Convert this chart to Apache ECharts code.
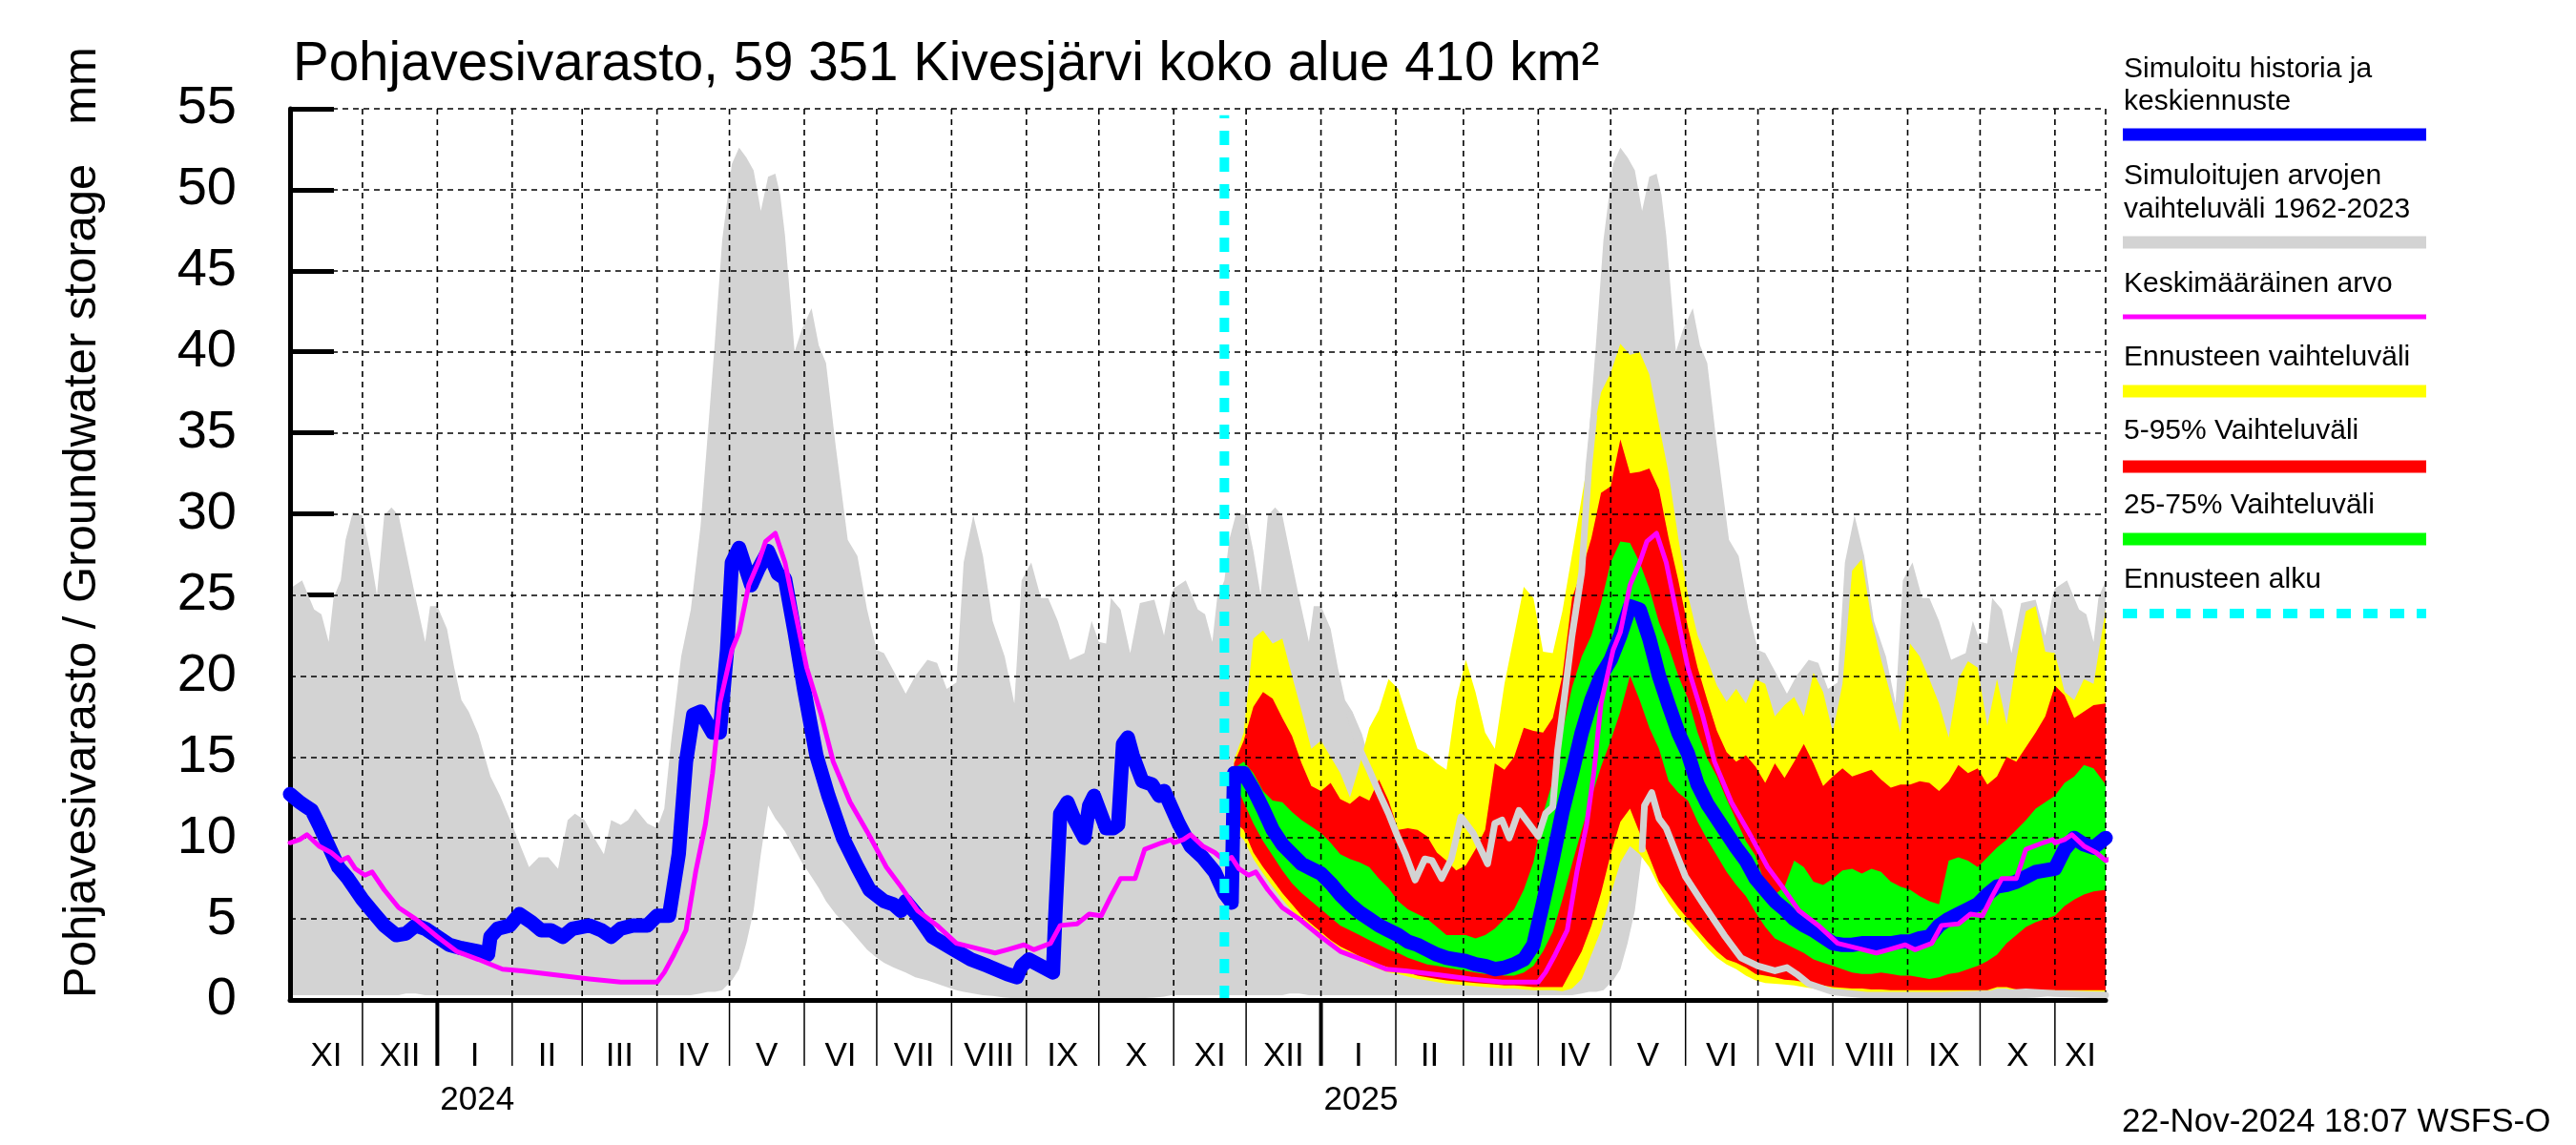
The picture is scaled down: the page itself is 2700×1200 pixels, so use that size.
<!DOCTYPE html>
<html><head><meta charset="utf-8">
<script src="https://cdn.jsdelivr.net/npm/echarts@6/dist/echarts.min.js"></script>
<style>html,body{margin:0;padding:0;background:#fff}#chart{width:2700px;height:1200px}</style>
</head><body><div id="chart"></div>
<script>
const FONT = '"Liberation Sans", Arial, Helvetica, sans-serif';
const X_MIN = '2023-11-01';
const X_MAX = '2025-11-22';
const FORECAST_START = '2024-11-22';

// Climatology 1962-2023 (range) by day of season (Nov..Oct), repeats every year
const climDays = ['11-01','11-06','11-09','11-11','11-14','11-17','11-19','11-22','11-24','11-27',
 '12-01','12-04','12-07','12-10','12-13','12-16','12-19','12-23','12-27','12-29',
 '01-01','01-05','01-08','01-11','01-14','01-18','01-23','01-27',
 '02-01','02-05','02-08','02-12','02-16','02-20','02-24','02-27',
 '03-02','03-06','03-10','03-13','03-17','03-20','03-23','03-28',
 '04-01','04-04','04-07','04-11','04-15','04-19','04-22','04-25','04-28',
 '05-02','05-05','05-08','05-11','05-14','05-17','05-20','05-22','05-24','05-28','05-31',
 '06-04','06-07','06-10','06-14','06-19','06-23','06-27',
 '07-01','07-04','07-08','07-13','07-17','07-22','07-26','07-30',
 '08-03','08-06','08-10','08-14','08-18','08-23','08-27','08-30',
 '09-03','09-07','09-10','09-14','09-19','09-25','09-28',
 '10-01','10-04','10-06','10-10','10-14','10-18','10-24','10-28','10-31'];
const climHi = [25.4,25.9,24.8,24.1,23.8,22.1,24.8,25.9,28.4,30.1,
 29.9,27.7,25.0,29.9,30.4,29.9,27.7,24.8,22.1,24.3,
 24.3,22.9,20.5,18.5,17.8,16.4,13.8,12.6,
 10.8,9.3,8.2,8.8,8.8,8.1,11.1,11.5,
 11.1,10.0,9.0,11.1,10.8,11.1,11.8,10.9,
 10.6,11.8,16.2,21.2,24.1,29.2,34.9,40.7,46.9,
 51.6,52.6,52.0,51.2,48.7,50.8,51.0,49.7,47.2,40.0,41.4,
 42.7,40.4,39.3,34.2,28.4,27.4,24.1,
 21.6,21.4,20.3,18.9,20.0,21.0,20.8,19.2,
 19.6,27.0,29.9,27.4,23.4,21.2,18.3,25.9,
 27.0,24.8,24.8,23.4,21.0,21.4,23.4,
 22.1,22.0,24.8,24.1,21.4,24.5,24.7,22.5,25.0];
const climLo = [0.3,0.3,0.3,0.3,0.3,0.3,0.3,0.3,0.3,0.3,
 0.3,0.3,0.3,0.3,0.3,0.3,0.4,0.4,0.3,0.3,
 0.3,0.3,0.3,0.3,0.3,0.3,0.3,0.3,
 0.3,0.3,0.3,0.3,0.3,0.3,0.3,0.3,
 0.3,0.3,0.3,0.3,0.3,0.3,0.3,0.3,
 0.3,0.3,0.3,0.3,0.3,0.4,0.5,0.5,0.6,
 1.2,1.9,3.5,5.5,9.0,12.0,11.2,10.8,10.4,9.3,8.5,
 7.6,6.9,6.1,5.3,4.5,3.8,3.1,
 2.6,2.3,2.0,1.7,1.4,1.2,1.0,0.8,
 0.6,0.5,0.4,0.3,0.25,0.15,0.1,0.1,
 0.1,0.1,0.1,0.1,0.1,0.1,0.1,
 0.1,0.1,0.1,0.1,0.1,0.1,0.15,0.2,0.3];

// Mean value (Keskimääräinen arvo) by day of season
const meanDays = ['11-01','11-05','11-08','11-13','11-18','11-22','11-25','11-28',
 '12-02','12-05','12-10','12-16','12-23',
 '01-01','01-09','01-18','01-28',
 '02-05','02-19','03-04','03-17',
 '04-01','04-04','04-08','04-13','04-17','04-21','04-24','04-27',
 '05-02','05-05','05-09','05-13','05-16','05-20','05-24','05-28',
 '06-02','06-08','06-13','06-20','06-27',
 '07-05','07-11','07-18','07-26',
 '08-03','08-11','08-19','08-24','08-31',
 '09-04','09-11','09-15','09-22','09-27',
 '10-02','10-06','10-10','10-16','10-20','10-27','10-31'];
const meanVals = [9.7,9.9,10.2,9.5,9.1,8.6,8.8,8.1,
 7.7,7.9,6.8,5.7,5.0,
 3.9,3.0,2.5,1.9,
 1.8,1.55,1.3,1.1,
 1.1,1.7,2.8,4.3,7.9,10.8,14.0,18.3,
 21.6,22.7,25.6,27.0,28.3,28.8,27.0,24.1,
 20.5,17.6,14.7,12.2,10.4,
 8.2,7.0,5.5,4.6,
 3.5,3.2,2.9,3.1,3.4,
 3.1,3.5,4.6,4.7,5.3,
 5.2,6.4,7.5,7.5,9.3,9.7,9.9];

// Simulated history
const histDates = ['2023-11-01','2023-11-05','2023-11-07','2023-11-10','2023-11-13','2023-11-17','2023-11-21','2023-11-25',
 '2023-12-01','2023-12-06','2023-12-10','2023-12-15','2023-12-19','2023-12-23','2023-12-27',
 '2024-01-01','2024-01-06','2024-01-11','2024-01-18','2024-01-22','2024-01-23','2024-01-26','2024-01-31',
 '2024-02-04','2024-02-09','2024-02-13','2024-02-17','2024-02-22','2024-02-26',
 '2024-03-04','2024-03-09','2024-03-13','2024-03-17','2024-03-22','2024-03-28',
 '2024-04-01','2024-04-06','2024-04-10','2024-04-13','2024-04-16','2024-04-19','2024-04-24','2024-04-27','2024-04-30',
 '2024-05-02','2024-05-05','2024-05-10','2024-05-13','2024-05-17','2024-05-21','2024-05-24','2024-05-28',
 '2024-06-01','2024-06-06','2024-06-11','2024-06-17','2024-06-23','2024-06-28',
 '2024-07-04','2024-07-08','2024-07-11','2024-07-13','2024-07-18','2024-07-24',
 '2024-08-01','2024-08-09','2024-08-16','2024-08-24','2024-08-28','2024-08-30',
 '2024-09-02','2024-09-07','2024-09-12','2024-09-13','2024-09-15','2024-09-18','2024-09-21','2024-09-25','2024-09-27','2024-09-29',
 '2024-10-04','2024-10-07','2024-10-09','2024-10-11','2024-10-13','2024-10-15','2024-10-19','2024-10-23','2024-10-26','2024-10-28',
 '2024-11-03','2024-11-08','2024-11-13','2024-11-18','2024-11-22','2024-11-25'];
const histVals = [12.7,12.2,12.0,11.7,10.8,9.5,8.2,7.5,
 6.2,5.3,4.6,4.0,4.1,4.6,4.4,
 3.9,3.4,3.2,3.0,2.8,3.9,4.4,4.6,
 5.3,4.8,4.3,4.3,3.9,4.4,
 4.6,4.3,3.9,4.4,4.6,4.6,
 5.2,5.2,9.0,14.7,17.6,17.8,16.5,16.5,21.6,
 27.0,27.9,25.6,26.6,27.7,26.3,26.0,22.7,
 19.1,15.1,12.6,10.0,8.2,6.8,
 6.1,5.9,5.5,6.1,5.2,3.9,
 3.2,2.5,2.1,1.6,1.4,2.1,
 2.5,2.1,1.7,5.3,11.5,12.2,11.1,10.0,12.0,12.6,
 10.6,10.6,10.8,15.8,16.2,15.1,13.5,13.3,12.6,12.9,
 10.9,9.5,8.8,7.9,6.6,6.0];

// Forecast
const fcDates = ['2024-11-26','2024-11-30','2024-12-04','2024-12-08','2024-12-12','2024-12-16','2024-12-20','2024-12-24','2024-12-28',
 '2025-01-01','2025-01-05','2025-01-09','2025-01-13','2025-01-17','2025-01-21','2025-01-25','2025-01-29',
 '2025-02-02','2025-02-06','2025-02-10','2025-02-14','2025-02-18','2025-02-22','2025-02-26',
 '2025-03-02','2025-03-06','2025-03-10','2025-03-14','2025-03-18','2025-03-22','2025-03-26','2025-03-30',
 '2025-04-03','2025-04-07','2025-04-11','2025-04-15','2025-04-19','2025-04-23','2025-04-27',
 '2025-05-01','2025-05-05','2025-05-09','2025-05-13','2025-05-17','2025-05-21','2025-05-25','2025-05-29',
 '2025-06-02','2025-06-06','2025-06-10','2025-06-14','2025-06-18','2025-06-22','2025-06-26','2025-06-30',
 '2025-07-04','2025-07-08','2025-07-12','2025-07-16','2025-07-20','2025-07-24','2025-07-28',
 '2025-08-01','2025-08-05','2025-08-09','2025-08-13','2025-08-17','2025-08-21','2025-08-25','2025-08-29',
 '2025-09-02','2025-09-06','2025-09-10','2025-09-14','2025-09-18','2025-09-22','2025-09-26','2025-09-30',
 '2025-10-04','2025-10-08','2025-10-12','2025-10-16','2025-10-20','2025-10-24','2025-10-28',
 '2025-11-01','2025-11-05','2025-11-09','2025-11-13','2025-11-17','2025-11-22'];
const fcMedian = [14.0,14.0,13.0,11.8,10.5,9.6,9.0,8.4,8.1,
 7.8,7.2,6.5,5.9,5.4,5.0,4.6,4.3,
 4.0,3.6,3.4,3.1,2.8,2.6,2.5,
 2.4,2.2,2.1,1.9,2.0,2.2,2.5,3.4,
 6.0,8.7,11.6,14.0,16.5,18.5,20.0,
 21.0,22.5,24.3,24.1,22.3,20.0,18.2,16.5,
 15.2,13.3,12.1,11.2,10.3,9.4,8.6,7.5,
 6.8,6.1,5.6,5.0,4.6,4.3,3.9,
 3.5,3.4,3.4,3.5,3.5,3.5,3.5,3.6,
 3.6,3.8,3.9,4.6,5.0,5.3,5.6,5.9,
 6.5,7.0,7.1,7.3,7.6,7.9,8.0,
 8.1,9.3,10.0,9.6,9.4,10.0];
const fcMax = [14.8,16.5,22.3,22.8,22.0,22.3,20.0,17.8,15.5,
 16.0,15.0,14.0,12.5,14.5,16.8,17.9,19.8,
 19.2,17.3,15.5,15.2,14.6,14.2,18.5,
 21.0,19.0,16.5,15.5,19.5,22.5,25.5,24.8,
 21.5,21.4,24.0,27.5,31.0,34.5,37.5,
 38.7,40.5,39.8,40.0,38.6,35.5,32.5,28.5,
 25.0,22.5,21.0,19.4,18.4,19.2,18.3,19.8,
 19.5,17.5,18.2,18.7,17.5,20.2,19.0,
 16.5,19.5,26.5,27.2,23.5,21.0,18.8,16.5,
 22.0,21.2,19.8,18.3,16.2,19.8,20.9,20.5,
 16.9,19.8,17.0,21.0,24.0,24.3,21.5,
 21.4,19.0,18.5,19.8,19.5,24.1];
const fcP95 = [14.6,16.0,18.1,19.0,18.6,17.4,16.3,14.6,13.2,
 12.9,13.4,12.4,12.1,12.6,12.3,13.6,12.3,
 10.5,10.6,10.5,10.1,9.1,8.6,8.0,
 8.3,9.3,10.5,14.6,14.2,15.0,16.8,16.6,
 16.5,17.4,20.0,24.8,26.5,28.5,31.3,
 31.7,34.6,32.5,32.6,32.8,31.5,28.5,25.9,
 23.0,20.5,18.5,16.6,15.3,14.7,15.1,14.4,
 13.4,14.6,13.7,14.7,15.8,14.6,13.2,
 13.8,14.3,13.8,14.0,14.2,13.6,13.1,13.3,
 13.3,13.5,13.4,12.9,13.5,14.5,14.0,14.3,
 13.3,13.8,15.0,14.7,15.6,16.5,17.5,
 19.4,18.8,17.4,17.8,18.2,18.3];
const fcP75 = [14.3,14.7,14.0,12.9,12.3,12.2,11.6,11.1,10.7,
 10.3,9.7,9.0,8.7,8.5,8.2,7.5,6.9,
 6.1,5.6,5.3,5.0,4.5,4.0,4.0,
 4.0,3.8,4.0,4.4,5.0,5.6,6.8,8.5,
 11.5,13.5,16.5,19.3,21.2,22.5,24.5,
 27.0,28.3,28.2,27.0,25.4,23.3,21.8,20.0,
 18.6,16.5,14.9,13.8,12.4,11.1,9.8,8.9,
 7.1,6.5,7.0,8.6,8.2,7.3,7.1,
 7.5,8.0,8.1,7.8,8.1,7.9,7.3,7.0,
 6.8,6.4,6.1,5.9,8.6,8.8,8.6,8.2,
 8.8,9.4,9.9,10.5,11.1,11.8,12.2,
 12.6,13.4,13.8,14.5,14.3,13.3];
const fcP25 = [13.5,12.2,10.9,9.8,8.9,8.0,7.2,6.6,6.1,
 5.6,5.1,4.6,4.3,4.0,3.7,3.4,3.1,
 2.9,2.6,2.4,2.2,2.1,2.0,1.9,
 1.8,1.7,1.6,1.6,1.5,1.5,1.7,2.1,
 3.0,4.2,6.2,8.4,10.5,12.5,14.4,
 16.0,17.8,20.0,18.5,16.8,15.5,13.5,12.8,
 12.3,11.0,9.9,8.9,7.9,7.1,6.4,5.4,
 4.5,3.8,3.5,3.2,2.9,2.5,2.3,
 2.1,1.9,1.7,1.6,1.6,1.7,1.6,1.5,
 1.5,1.4,1.3,1.4,1.6,1.7,1.9,2.1,
 2.4,2.8,3.5,4.0,4.5,4.8,5.0,
 5.2,5.8,6.2,6.5,6.7,6.8];
const fcP5 = [11.0,10.5,9.1,8.2,7.4,6.6,5.9,5.2,4.7,
 4.2,3.7,3.3,3.0,2.7,2.4,2.2,2.0,
 1.9,1.7,1.5,1.4,1.3,1.2,1.15,
 1.1,1.05,1.0,0.95,0.9,0.9,0.85,0.8,
 0.8,0.8,0.8,1.9,3.0,4.6,6.6,
 9.0,11.0,11.8,10.3,8.8,7.3,6.5,5.7,
 5.0,4.3,3.6,3.0,2.5,2.3,2.0,1.6,
 1.5,1.4,1.25,1.2,1.1,1.0,0.9,
 0.8,0.75,0.7,0.7,0.65,0.65,0.6,0.6,
 0.6,0.6,0.6,0.6,0.6,0.6,0.6,0.6,
 0.6,0.8,0.8,0.65,0.6,0.6,0.6,
 0.6,0.6,0.6,0.6,0.6,0.6];
const fcMin = [10.5,9.9,8.7,7.8,7.0,6.2,5.5,4.8,4.3,
 3.8,3.4,3.0,2.7,2.4,2.1,1.9,1.7,
 1.6,1.45,1.3,1.2,1.1,1.0,0.95,
 0.9,0.85,0.8,0.75,0.7,0.7,0.65,0.6,
 0.6,0.6,0.55,0.7,1.3,2.8,4.3,
 6.5,8.5,9.5,9.0,8.2,7.0,6.0,5.2,
 4.6,3.9,3.2,2.6,2.2,1.9,1.5,1.2,
 1.05,1.0,0.95,0.9,0.8,0.7,0.6,
 0.5,0.45,0.4,0.4,0.4,0.35,0.35,0.35,
 0.35,0.35,0.35,0.35,0.35,0.4,0.4,0.45,
 0.5,0.7,0.7,0.55,0.5,0.5,0.5,
 0.5,0.5,0.5,0.5,0.5,0.5];

// Light grey scenario line (no legend entry)
const scenDates = ['2025-01-13','2025-01-17','2025-01-21','2025-01-25','2025-01-29','2025-02-02','2025-02-05','2025-02-09','2025-02-13','2025-02-16',
 '2025-02-20','2025-02-24','2025-02-28','2025-03-05','2025-03-11','2025-03-14','2025-03-17','2025-03-20','2025-03-24','2025-03-28',
 '2025-04-01','2025-04-04','2025-04-07','2025-04-09','2025-04-12','2025-04-15','2025-04-19','2025-04-22','2025-04-24',
 '2025-05-01',
 '2025-05-14','2025-05-15','2025-05-18','2025-05-21','2025-05-24','2025-05-28','2025-06-01','2025-06-08','2025-06-17','2025-06-24',
 '2025-07-01','2025-07-08','2025-07-13','2025-07-17','2025-07-22','2025-08-01','2025-08-15','2025-09-15','2025-10-10','2025-10-20',
 '2025-11-01','2025-11-22'];
const scenVals = [17.6,15.5,14.2,12.8,11.5,10.0,9.0,7.4,8.7,8.6,
 7.5,8.7,11.3,10.3,8.4,10.9,11.1,10.0,11.7,10.9,
 10.1,11.5,11.9,15.4,18.9,22.5,26.4,33.0,36.0,
 null,
 9.3,12.0,12.8,11.2,10.6,9.1,7.6,6.0,4.0,2.6,
 2.1,1.8,2.0,1.6,1.0,0.5,0.3,0.3,0.4,0.5,
 0.4,0.3];

// Axis labels
const yTicks = {min: 0, max: 55, interval: 5};
const monthStarts = ['2023-11-01','2023-12-01','2024-01-01','2024-02-01','2024-03-01','2024-04-01','2024-05-01','2024-06-01',
 '2024-07-01','2024-08-01','2024-09-01','2024-10-01','2024-11-01','2024-12-01','2025-01-01','2025-02-01','2025-03-01',
 '2025-04-01','2025-05-01','2025-06-01','2025-07-01','2025-08-01','2025-09-01','2025-10-01','2025-11-01'];
const monthLabels = ['XI','XII','I','II','III','IV','V','VI','VII','VIII','IX','X','XI','XII','I','II','III','IV','V','VI','VII','VIII','IX','X','XI'];
const yearTicks = ['2024-01-01','2025-01-01'];
const yearLabels = ['2024','2025'];

const legendItems = [
 {lines:['Simuloitu historia ja','keskiennuste'], color:'#0000ff', kind:'bar'},
 {lines:['Simuloitujen arvojen','vaihteluväli 1962-2023'], color:'#d3d3d3', kind:'bar'},
 {lines:['Keskimääräinen arvo'], color:'#ff00ff', kind:'thin'},
 {lines:['Ennusteen vaihteluväli'], color:'#ffff00', kind:'bar'},
 {lines:['5-95% Vaihteluväli'], color:'#ff0000', kind:'bar'},
 {lines:['25-75% Vaihteluväli'], color:'#00ff00', kind:'bar'},
 {lines:['Ennusteen alku'], color:'#00ffff', kind:'dash'}
];

// ---------- build ----------
function ts(s){ const p = s.split('-').map(Number); return new Date(p[0], p[1]-1, p[2]).getTime(); }
const X_MIN_TS = ts(X_MIN), X_MAX_TS = ts(X_MAX);
const DAY = 86400000;

function expandClim(days, vals){
  const out = [];
  [2023, 2024, 2025].forEach(y0 => {
    days.forEach((md, i) => {
      const p = md.split('-').map(Number);
      const y = p[0] >= 11 ? y0 : y0 + 1;
      const t = new Date(y, p[0]-1, p[1]).getTime();
      if (t <= X_MAX_TS + 40*DAY) out.push([t, vals[i]]);
    });
  });
  return out;
}

function bandSeries(id, times, lo, hi, color){
  const base = {type:'line', stack:id, symbol:'none', showSymbol:false, silent:true, z:1,
    lineStyle:{width:0, opacity:0}, animation:false};
  return [
    Object.assign({}, base, {name:id+'_lo', data: times.map((t,i)=>[t, lo[i]])}),
    Object.assign({}, base, {name:id+'_hi', data: times.map((t,i)=>[t, hi[i]-lo[i]]),
      areaStyle:{color:color, opacity:1}})
  ];
}

const greyLoPts = expandClim(climDays, climLo);
const greyHiPts = expandClim(climDays, climHi);
const greyTimes = greyLoPts.map(p=>p[0]);
const fcTimes = fcDates.map(ts);

const series = [];
series.push(...bandSeries('grey', greyTimes, greyLoPts.map(p=>p[1]), greyHiPts.map(p=>p[1]), '#d3d3d3'));
series.push(...bandSeries('yellow', fcTimes, fcMin, fcMax, '#ffff00'));
series.push(...bandSeries('red', fcTimes, fcP5, fcP95, '#ff0000'));
series.push(...bandSeries('green', fcTimes, fcP25, fcP75, '#00ff00'));

// vertical month grid lines
series.push({
  type:'custom', z:2, silent:true, animation:false, clip:false,
  encode:{x:0, y:1},
  data: monthStarts.slice(1).map(s=>[ts(s),0]).concat([[X_MAX_TS,0]]),
  renderItem:(params, api)=>{
    const t = api.value(0);
    const a = api.coord([t, yTicks.max]);
    const b = api.coord([t, 0]);
    return {type:'line', shape:{x1:a[0], y1:a[1], x2:b[0], y2:b[1]},
      style:{stroke:'#000', lineWidth:1.6, lineDash:[6,5]}};
  }
});

// light grey scenario line
series.push({type:'line', z:3, symbol:'none', showSymbol:false, silent:true, animation:false, connectNulls:false,
  data: scenDates.map((d,i)=>[ts(d), scenVals[i]]),
  lineStyle:{color:'#d3d3d3', width:7, cap:'round', join:'round'}});

// blue: history + median forecast
series.push({type:'line', z:3, symbol:'none', showSymbol:false, silent:true, animation:false,
  data: histDates.map((d,i)=>[ts(d), histVals[i]]).concat(fcDates.map((d,i)=>[ts(d), fcMedian[i]])),
  lineStyle:{color:'#0000ff', width:15, cap:'round', join:'round'}});

// magenta mean
series.push({type:'line', z:3, symbol:'none', showSymbol:false, silent:true, animation:false,
  data: expandClim(meanDays, meanVals),
  lineStyle:{color:'#ff00ff', width:5, cap:'round', join:'round'}});

// forecast start
series.push({type:'line', z:4, symbol:'none', showSymbol:false, silent:true, animation:false,
  data: [[ts(FORECAST_START), 0], [ts(FORECAST_START), 54.6]],
  lineStyle:{color:'#00ffff', width:10, type:[15,13]}});

// month ticks + labels under the axis
series.push({
  type:'custom', z:5, silent:true, animation:false, clip:false,
  encode:{x:0, y:1},
  data: monthStarts.map((s,i)=>[ts(s), 0, i < monthStarts.length-1 ? ts(monthStarts[i+1]) : X_MAX_TS, i]),
  renderItem:(params, api)=>{
    const t0 = api.value(0), t1 = api.value(2), i = api.value(3);
    const p0 = api.coord([t0, 0]), p1 = api.coord([t1, 0]);
    const y = p0[1];
    const kids = [];
    if (t0 > X_MIN_TS) {
      const jan = monthLabels[i] === 'I';
      kids.push({type:'line', shape:{x1:p0[0], y1:y, x2:p0[0], y2:y+69},
        style:{stroke:'#000', lineWidth: jan ? 4 : 1.5}});
    }
    kids.push({type:'text', x:(p0[0]+p1[0])/2, y:y+59,
      style:{text:monthLabels[i], fill:'#000', fontSize:35, fontFamily:FONT,
        align:'center', verticalAlign:'middle', textAlign:'center', textVerticalAlign:'middle'}});
    return {type:'group', children:kids};
  }
});

// year labels
series.push({
  type:'custom', z:5, silent:true, animation:false, clip:false,
  encode:{x:0, y:1},
  data: yearTicks.map((s,i)=>[ts(s), 0, i]),
  renderItem:(params, api)=>{
    const p = api.coord([api.value(0), 0]);
    return {type:'text', x:p[0]+3, y:p[1]+105,
      style:{text:yearLabels[api.value(2)], fill:'#000', fontSize:35, fontFamily:FONT,
        align:'left', verticalAlign:'middle', textAlign:'left', textVerticalAlign:'middle'}};
  }
});

// ---------- graphics: title, y-title, legend, timestamp ----------
const graphic = [];
function txt(x, y, text, size, extra){
  return Object.assign({type:'text', x:x, y:y, silent:true,
    style:{text:text, fill:'#000', fontSize:size, fontFamily:FONT,
      align:'left', verticalAlign:'middle', textAlign:'left', textVerticalAlign:'middle'}}, extra||{});
}
graphic.push(txt(307, 68, 'Pohjavesivarasto, 59 351 Kivesjärvi koko alue 410 km²', 56.5));
graphic.push(txt(86, 1046, 'Pohjavesivarasto / Groundwater storage   mm', 49, {rotation: Math.PI/2}));
graphic.push(txt(2224, 1176, '22-Nov-2024 18:07 WSFS-O', 35));

const LX = 2226, LBX = 2225, LBW = 318;
const legendTextY = [[73,107],[185,220],[298],[375],[452],[530],[608]];
const legendBarY = [141, 254, 332, 410, 489, 565, 643];
legendItems.forEach((it, k)=>{
  it.lines.forEach((ln, j)=> graphic.push(txt(LX, legendTextY[k][j], ln, 30)));
  const yb = legendBarY[k];
  if (it.kind === 'bar') graphic.push({type:'rect', silent:true, shape:{x:LBX, y:yb-6.5, width:LBW, height:13}, style:{fill:it.color}});
  else if (it.kind === 'thin') graphic.push({type:'rect', silent:true, shape:{x:LBX, y:yb-2.5, width:LBW, height:5}, style:{fill:it.color}});
  else graphic.push({type:'line', silent:true, shape:{x1:LBX, y1:yb, x2:LBX+LBW, y2:yb}, style:{stroke:it.color, lineWidth:10, lineDash:[15,13]}});
});

const option = {
  animation:false,
  backgroundColor:'#fff',
  grid:{left:304, right:493, top:114, bottom:152, containLabel:false},
  xAxis:{type:'time', min:X_MIN_TS, max:X_MAX_TS, z:5,
    axisLine:{show:true, onZero:false, lineStyle:{color:'#000', width:5}},
    axisTick:{show:false}, axisLabel:{show:false}, splitLine:{show:false}},
  yAxis:[
    {type:'value', min:yTicks.min, max:yTicks.max, interval:yTicks.interval, z:0,
      axisLine:{show:false}, splitLine:{show:false},
      axisTick:{show:true, inside:true, length:46, lineStyle:{color:'#000', width:5}},
      axisLabel:{show:true, color:'#000', fontSize:56, fontFamily:FONT, margin:56}},
    {type:'value', min:yTicks.min, max:yTicks.max, interval:yTicks.interval, z:2, position:'left',
      axisLine:{show:true, lineStyle:{color:'#000', width:5}},
      axisTick:{show:false}, axisLabel:{show:false},
      splitLine:{show:true, lineStyle:{color:'#000', width:1.6, type:[6,5]}}}
  ],
  graphic: graphic,
  series: series
};
const chart = echarts.init(document.getElementById('chart'), null, {renderer:'canvas', width:2700, height:1200});
chart.setOption(option);
</script>
</body></html>
